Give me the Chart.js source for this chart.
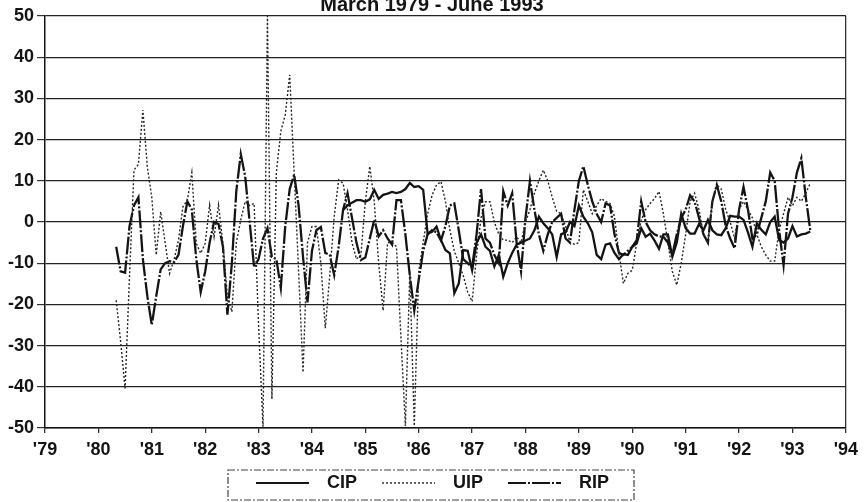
<!DOCTYPE html>
<html>
<head>
<meta charset="utf-8">
<script src="https://cdn.jsdelivr.net/npm/chart.js@4.4.0/dist/chart.umd.min.js"></script>
<style>
  html, body { margin: 0; padding: 0; background: #fff; }
  #wrap { width: 864px; height: 502px; }
</style>
</head>
<body>
<div id="wrap"><canvas id="chart" width="864" height="502"></canvas></div>
<script>
// interest parity deviations, monthly
const titleText = 'March 1979 - June 1993';
const seriesNames = ['CIP', 'UIP', 'RIP'];
const xTicks = [1979, 1980, 1981, 1982, 1983, 1984, 1985, 1986, 1987, 1988, 1989, 1990, 1991, 1992, 1993, 1994];
const yTicks = [-50, -40, -30, -20, -10, 0, 10, 20, 30, 40, 50];

// first month of each series (fractional year)
const ripStart = 1980 + 4 / 12;
const uipStart = 1980 + 4 / 12;
const cipStart = 1984 + 7 / 12;

const ripValues = [
  -6, -12, -12.3, -1, 4, 6, -9, -18, -25, -18, -11.5, -10,
  -9.5, -9.8, -8, -1, 5, 3, -9, -17, -12, -5, 0, -0.5,
  -6, -22.5, -10, 7.5, 16.5, 11, 0, -11, -9, -4, -1.5, -8.5,
  -9, -16, -1, 8, 11.5, 4, -8.5, -19.5, -7, -2, -1.2, -7.5,
  -8, -12.9, -6, 3, 7, 1, -5, -9.2, -8.6, -4, 0.5, -3.5,
  -2, -4, -5.5, 5.3, 5.3, -3, -13, -21.5, -14, -7, -3, -2,
  -2.5, -4.5, -1, 4, 4.5, -2, -9, -10, -11, -3, 8, -4,
  -5, -8, -10, 7.5, 4, 7, -5, -12, 1, 10, 3, -3,
  -7, -3, 0, 1, 2, -4, -5, 3, 10, 13.5, 9, 5,
  2, 0, 4.5, 4, -3, -7.5, -8, -7, -6, -4.4, 5, 0,
  -2, -3, -3.5, -3.6, -5, -8, -3, 1, 3, 6.5, 5, 1,
  -3, -5, 5, 9, 5, -1, -4, -6.4, 3, 8.5, 3, -4,
  -3, 1, 5, 12, 10, -2, -10.5, 2, 6, 12, 15.5, 6,
  -2
];

const uipValues = [
  -19, -29, -40.4, -13, 12.6, 14, 27.2, 13.4, 6, -8, 2.5, -5,
  -12.5, -9.2, -4.4, 3.7, 5.3, 12, -5.2, -7.6, -5.2, 4.1, -3.6, 4.1,
  -5.2, -18, -21.8, -5, 0.5, 5, 4, 4.5, -25, -49.7, 50, -43,
  12, 22, 26, 35.7, 12, -12, -36.5, -5, -1.1, -1.1, -10, -25.8,
  -13, 1.3, 10.2, 9.4, 3, -5, -9, -8, 5, 13.5, 5, -10,
  -21.5, -5, -5, -6, -28, -49.5, -12, -49.5, -12, -5, 2, 6.5,
  9, 9.8, 5, -2, -7, -10, -13, -17, -19.3, -8, 1, 4.9,
  4.9, 0, -3, -4.4, -4.4, -5, -3.6, -5, 0, 3, 7, 10,
  12.6, 10, 6, 2.6, 2, -1, -5, -5.4, -5, 7.8, 5, 2,
  4, 5.7, 5, 4.5, 1.3, -7.6, -14.9, -12.5, -11.7, -5, 0.5, 3,
  4.5, 5.7, 7.4, 2, -5, -12, -15.3, -10, -3, 5, 7, 3,
  -3, -5, 5, 9, 8, 3, 0, -4, 3, 5, 3, 1,
  -3, -6, -8, -9.5, -9.5, -2, 2, 6, 4, 6, 5, 7,
  9.4
];

const cipValues = [
  2.9, 4, 4.7, 5.3, 5.3, 4.9, 5.5, 7.8, 5.6, 6.6, 6.9, 7.3,
  7, 7.3, 8, 9.5, 8.5, 8.7, 7.8, -2.8, -2.4, -1.1, -4.4, -6.8,
  -7.6, -17.3, -14.9, -6.8, -7, -11.7, -5, -3, -6, -7, -10.8, -8,
  -13.3, -10, -7.5, -5.5, -5, -4.5, -4, -2, 1.3, -0.3, -1.5, -3,
  -8.5, -3, -2.5, 0, -1, 4, 1.3, -0.3, -2.5, -8, -9, -5.5,
  -5.2, -7.5, -9, -7.8, -8, -6, -5.2, -1.5, -3.6, -2.8, -4.5, -6.5,
  -3, -3, -8.4, -5, 2, -1.5, -2.8, -2.8, -0.5, -2, 0.5, -2,
  -3, -3.2, -1.5, 1.5, 1.3, 1.3, 0.5, -2.5, -6, -0.3, -1.9, -3,
  0, 1.3, -4.4, -5, -4, -1, -3.5, -3, -2.8, -2.3
];

function toPoints(start, values) {
  return values.map((v, i) => ({ x: start + i / 12, y: v }));
}

const ink = '#141414';
const font = '"Liberation Sans", Arial, Helvetica, sans-serif';

// title sits above the plot, partly cut by the page top
const titlePlugin = {
  id: 'topTitle',
  afterDraw(chart) {
    const ctx = chart.ctx;
    ctx.save();
    ctx.font = 'bold 20px ' + font;
    ctx.fillStyle = ink;
    ctx.textAlign = 'center';
    ctx.textBaseline = 'alphabetic';
    ctx.fillText(titleText, chart.width / 2, 11);
    ctx.restore();
  }
};

// boxed legend under the x axis
const boxLegend = {
  id: 'boxLegend',
  afterDraw(chart) {
    const ctx = chart.ctx;
    const box = { left: 228, top: 470, width: 406, height: 30 };
    const midY = box.top + 13;
    ctx.save();
    ctx.strokeStyle = '#444';
    ctx.lineWidth = 1.2;
    ctx.setLineDash([7, 2, 2, 2]);
    ctx.strokeRect(box.left, box.top, box.width, box.height);
    ctx.font = 'bold 18px ' + font;
    ctx.fillStyle = ink;
    ctx.textBaseline = 'middle';
    chart.data.datasets.forEach((ds, i) => {
      const x0 = 256 + i * 126;
      ctx.strokeStyle = ds.borderColor;
      ctx.lineWidth = Math.min(ds.borderWidth, 1.8);
      ctx.setLineDash(ds.borderDash || []);
      ctx.beginPath();
      ctx.moveTo(x0, midY);
      ctx.lineTo(x0 + 53, midY);
      ctx.stroke();
      ctx.fillText(ds.label, x0 + 71, midY);
    });
    ctx.restore();
  }
};

const ctx = document.getElementById('chart').getContext('2d');
new Chart(ctx, {
  type: 'line',
  data: {
    datasets: [
      {
        label: seriesNames[0],
        data: toPoints(cipStart, cipValues),
        borderColor: ink,
        borderWidth: 2.3,
        borderDash: [],
        pointRadius: 0,
        tension: 0
      },
      {
        label: seriesNames[1],
        data: toPoints(uipStart, uipValues),
        borderColor: '#262626',
        borderWidth: 1.4,
        borderDash: [2, 2],
        pointRadius: 0,
        tension: 0
      },
      {
        label: seriesNames[2],
        data: toPoints(ripStart, ripValues),
        borderColor: ink,
        borderWidth: 2.3,
        borderDash: [18, 2, 2, 2],
        pointRadius: 0,
        tension: 0
      }
    ]
  },
  options: {
    responsive: false,
    animation: false,
    devicePixelRatio: 1,
    layout: { padding: { top: 16, right: 16, left: 0, bottom: 0 } },
    plugins: {
      legend: { display: false },
      title: { display: false },
      tooltip: { enabled: false }
    },
    scales: {
      x: {
        type: 'linear',
        min: xTicks[0],
        max: xTicks[xTicks.length - 1],
        afterBuildTicks: (scale) => { scale.ticks = xTicks.map(v => ({ value: v })); },
        afterFit: (scale) => { scale.height = 74; },
        border: { display: true, color: ink, width: 1.5 },
        grid: {
          drawOnChartArea: true,
          color: (c) => (c.tick && c.tick.value === 1994 ? '#333' : 'rgba(0,0,0,0)'),
          lineWidth: 1.3,
          tickColor: '#333',
          tickLength: 5
        },
        ticks: {
          autoSkip: false,
          maxRotation: 0,
          padding: 6,
          color: ink,
          font: { family: font, size: 18, weight: 'bold' },
          callback: (v) => "'" + String(v).slice(2)
        }
      },
      y: {
        min: yTicks[0],
        max: yTicks[yTicks.length - 1],
        afterBuildTicks: (scale) => { scale.ticks = yTicks.map(v => ({ value: v })); },
        afterFit: (scale) => { scale.width = 45; },
        border: { display: true, color: ink, width: 1.5 },
        grid: {
          color: '#222',
          lineWidth: 1.2,
          tickColor: '#333',
          tickLength: 8
        },
        ticks: {
          padding: 3,
          color: ink,
          font: { family: font, size: 18, weight: 'bold' }
        }
      }
    }
  },
  plugins: [titlePlugin, boxLegend]
});
</script>
</body>
</html>
